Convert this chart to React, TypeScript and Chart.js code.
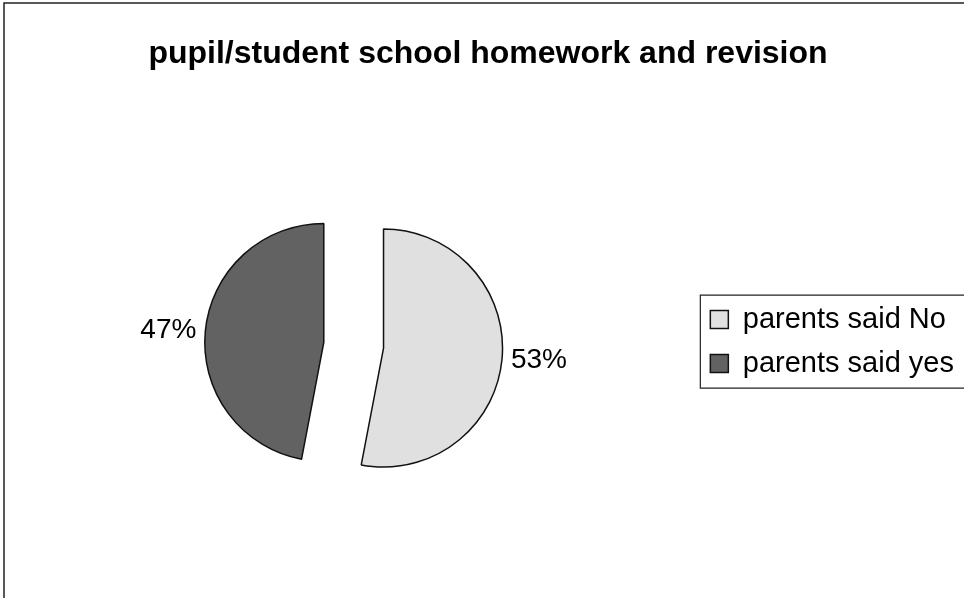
import React, { useEffect, useRef } from "react";
import { Chart, registerables } from "chart.js";

Chart.register(...registerables);

const TITLE = "pupil/student school homework and revision";
const categories = ["parents said No", "parents said yes"];
const values = [53, 47];
const percentLabels = ["53%", "47%"];
const sliceColors = ["#e0e0e0", "#626262"];

const EXPLODE = 30;
const LABEL_DIST = 158;

const explodePlugin = {
  id: "explodeSlices",
  beforeDatasetDraw(chart: any, args: any) {
    const ctx = chart.ctx;
    args.meta.data.forEach((arc: any) => {
      const mid = (arc.startAngle + arc.endAngle) / 2;
      ctx.save();
      ctx.translate(Math.cos(mid) * EXPLODE, Math.sin(mid) * EXPLODE);
      arc.draw(ctx);
      ctx.restore();
    });
    return false;
  },
  afterDatasetsDraw(chart: any) {
    const ctx = chart.ctx;
    const meta = chart.getDatasetMeta(0);
    ctx.save();
    ctx.font = "28px 'Liberation Sans', Arial, sans-serif";
    ctx.fillStyle = "#000";
    ctx.textBaseline = "middle";
    meta.data.forEach((arc: any, i: number) => {
      const mid = (arc.startAngle + arc.endAngle) / 2;
      const x = arc.x + Math.cos(mid) * LABEL_DIST;
      const y = arc.y + Math.sin(mid) * LABEL_DIST;
      ctx.textAlign = Math.cos(mid) >= 0 ? "left" : "right";
      ctx.fillText(percentLabels[i], x, y);
    });
    ctx.restore();
  },
  afterDraw(chart: any) {
    const ctx = chart.ctx;
    ctx.save();
    ctx.strokeStyle = "#222";
    ctx.lineWidth = 1.5;
    ctx.beginPath();
    ctx.moveTo(4, chart.height);
    ctx.lineTo(4, 3);
    ctx.lineTo(chart.width, 3);
    ctx.stroke();
    const lg = chart.legend;
    if (lg && lg.legendHitBoxes && lg.legendHitBoxes.length) {
      const hb = lg.legendHitBoxes;
      const first = hb[0];
      const last = hb[hb.length - 1];
      const x0 = first.left - 10;
      const y0 = first.top - 10;
      const y1 = last.top + last.height + 10;
      ctx.lineWidth = 1.2;
      ctx.beginPath();
      ctx.moveTo(chart.width + 2, y0);
      ctx.lineTo(x0, y0);
      ctx.lineTo(x0, y1);
      ctx.lineTo(chart.width + 2, y1);
      ctx.stroke();
    }
    ctx.restore();
  },
};

export default function App() {
  const ref = useRef<HTMLCanvasElement | null>(null);

  useEffect(() => {
    if (!ref.current) return;
    Chart.defaults.font.family = "'Liberation Sans', Arial, sans-serif";
    Chart.defaults.color = "#000";
    const chart = new Chart(ref.current, {
      type: "pie",
      data: {
        labels: categories,
        datasets: [
          {
            data: values,
            backgroundColor: sliceColors,
            borderColor: "#111",
            borderWidth: 1.5,
            radius: 119,
          } as any,
        ],
      },
      options: {
        animation: false,
        responsive: true,
        maintainAspectRatio: false,
        layout: { padding: { left: 12, right: 0, top: 0, bottom: 0 } },
        plugins: {
          title: {
            display: true,
            text: TITLE,
            color: "#000",
            font: { size: 32, weight: "bold" },
            padding: { top: 35, bottom: 19 },
          },
          legend: {
            position: "right",
            title: {
              display: true,
              text: "",
              font: { size: 1 },
              padding: { top: 84, bottom: 0 },
            },
            labels: {
              color: "#000",
              font: { size: 29 },
              boxWidth: 18,
              boxHeight: 18,
              padding: 15,
            },
          },
          tooltip: { enabled: false },
        },
      },
      plugins: [explodePlugin],
    });
    return () => chart.destroy();
  }, []);

  return (
    <div style={{ position: "absolute", left: 0, top: 0, width: 964, height: 598, background: "#fff" }}>
      <canvas ref={ref} />
    </div>
  );
}
